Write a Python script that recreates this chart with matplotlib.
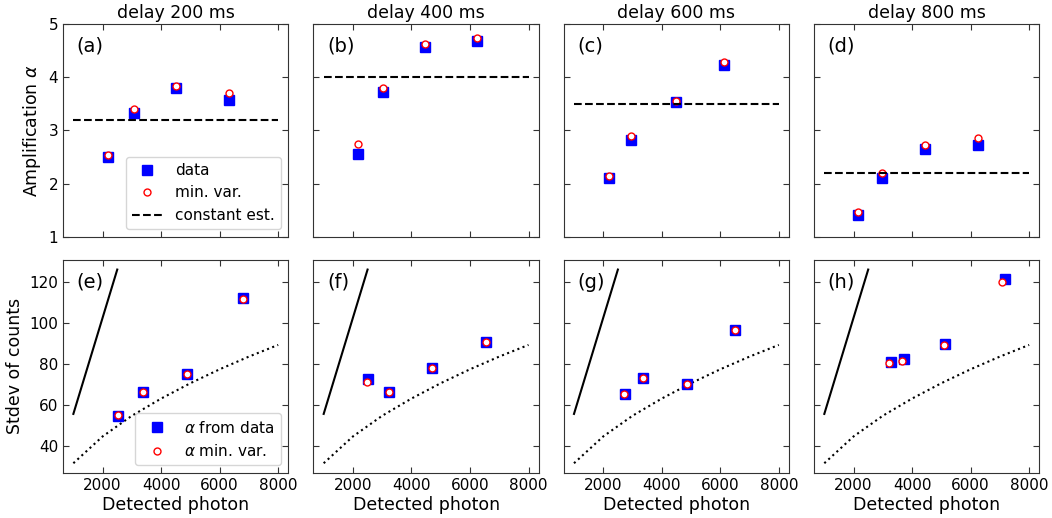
import numpy as np
import matplotlib
matplotlib.use("Agg")
import matplotlib.pyplot as plt

# ---- data ----
delays = [200, 400, 600, 800]
panel_top = ["(a)", "(b)", "(c)", "(d)"]
panel_bot = ["(e)", "(f)", "(g)", "(h)"]

# top row: amplification alpha vs detected photons
amp_x = [
    [2171, 3070, 4504, 6313],
    [2160, 3019, 4473, 6237],
    [2206, 2962, 4473, 6133],
    [2137, 2973, 4450, 6259],
]
amp_data = [
    [2.50, 3.33, 3.79, 3.57],
    [2.56, 3.72, 4.57, 4.68],
    [2.10, 2.82, 3.54, 4.23],
    [1.42, 2.10, 2.65, 2.72],
]
amp_minvar = [
    [2.54, 3.41, 3.83, 3.70],
    [2.75, 3.80, 4.63, 4.73],
    [2.15, 2.90, 3.55, 4.29],
    [1.46, 2.20, 2.72, 2.86],
]
amp_const = [3.2, 4.0, 3.5, 2.2]
const_x = [1000, 8000]

# bottom row: stdev of counts vs detected photons
std_x_data = [
    [2535, 3366, 4879, 6814],
    [2515, 3248, 4717, 6534],
    [2733, 3374, 4851, 6488],
    [3294, 3729, 5114, 7164],
]
std_data = [
    [54.9, 66.3, 75.4, 112.3],
    [72.8, 66.3, 78.1, 90.8],
    [65.6, 73.4, 70.3, 96.9],
    [81.2, 82.5, 89.9, 121.8],
]
std_x_minvar = [
    [2525, 3366, 4879, 6790],
    [2470, 3248, 4717, 6534],
    [2720, 3374, 4851, 6488],
    [3225, 3672, 5103, 7061],
]
std_minvar = [
    [55.0, 66.3, 75.4, 111.7],
    [71.5, 66.3, 78.1, 90.8],
    [65.4, 73.2, 70.2, 96.9],
    [80.4, 81.6, 89.4, 120.3],
]
# reference lines
solid_x = [1000, 2500]
solid_y = [55.7, 126.2]
dotted_x = [1000, 2000, 3000, 4000, 5000, 6000, 7000, 8000]
dotted_y = [31.6, 44.7, 54.8, 63.2, 70.7, 77.5, 83.7, 89.4]


def style_axis(ax):
    ax.tick_params(direction="in", top=True, right=True, labelsize=11,
                   length=4, color="#333333")
    for sp in ax.spines.values():
        sp.set_color("#333333")
    ax.set_xticks([2000, 4000, 6000, 8000])


fig, axes = plt.subplots(2, 4, figsize=(10.52, 5.18), dpi=100, sharey="row")
plt.subplots_adjust(left=0.060, right=0.988, top=0.954, bottom=0.087,
                    wspace=0.111, hspace=0.108)

for i in range(4):
    ax = axes[0, i]
    ax.plot(amp_x[i], amp_data[i], "s", color="blue", ms=7, label="data")
    ax.plot(amp_x[i], amp_minvar[i], "o", mfc="white", mec="red", mew=1.0,
            ms=5, label="min. var.")
    ax.plot(const_x, [amp_const[i]] * 2, "--", color="black", lw=1.5,
            label="constant est.")
    ax.set_ylim(1, 5)
    ax.set_yticks([1, 2, 3, 4, 5])
    ax.set_title(f"delay {delays[i]} ms", fontsize=12.5, pad=4)
    ax.text(0.06, 0.94, panel_top[i], transform=ax.transAxes, fontsize=14,
            va="top", ha="left")
    style_axis(ax)
    ax.tick_params(labelbottom=False)

    ax = axes[1, i]
    ax.plot(solid_x, solid_y, "-", color="black", lw=1.5)
    ax.plot(dotted_x, dotted_y, ":", color="black", lw=1.5)
    ax.plot(std_x_data[i], std_data[i], "s", color="blue", ms=7,
            label=r"$\alpha$ from data")
    ax.plot(std_x_minvar[i], std_minvar[i], "o", mfc="white", mec="red",
            mew=1.0, ms=5, label=r"$\alpha$ min. var.")
    ax.text(0.06, 0.94, panel_bot[i], transform=ax.transAxes, fontsize=14,
            va="top", ha="left")
    ax.set_xlabel("Detected photon", fontsize=12.5, labelpad=2)
    ax.set_yticks([40, 60, 80, 100, 120])
    style_axis(ax)

axes[0, 0].set_ylabel(r"Amplification $\alpha$", fontsize=12.5)
axes[1, 0].set_ylabel("Stdev of counts", fontsize=12.5)
axes[0, 0].legend(loc="lower right", fontsize=11, numpoints=1)
axes[1, 0].legend(loc="lower right", fontsize=11, numpoints=1)

fig.savefig("out.png", dpi=100)
